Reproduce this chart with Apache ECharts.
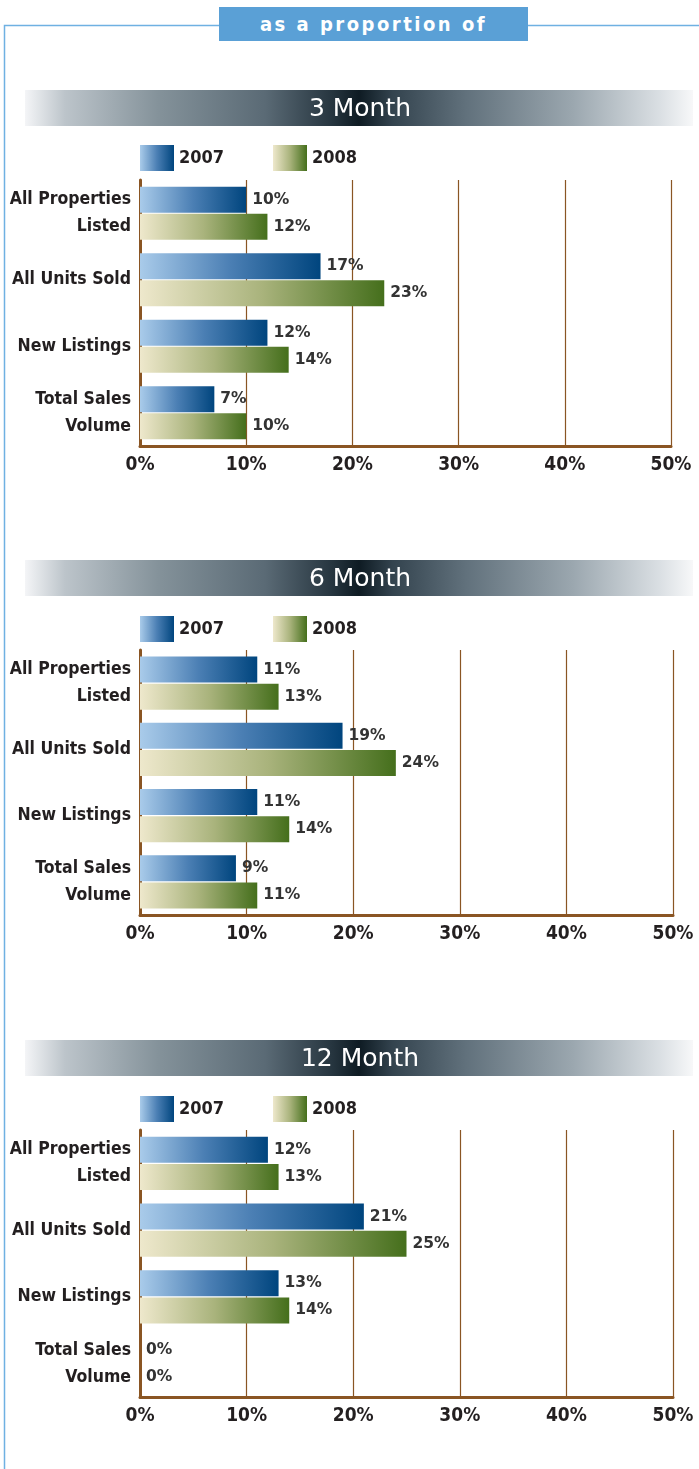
<!DOCTYPE html>
<html>
<head>
<meta charset="utf-8">
<script src="https://cdn.jsdelivr.net/npm/echarts@6/dist/echarts.min.js"></script>
<style>
  html, body { margin: 0; padding: 0; background: #fff; }
  #wrap { position: relative; width: 699px; height: 1469px; }
  #chart { position: absolute; left: 0; top: 0; width: 699px; height: 1469px; }
  #topTitle {
    position: absolute; left: 219px; top: 7px; width: 309px; height: 34px;
    background: #5aa0d6; color: #fff; text-align: center; line-height: 34px;
    font-family: "Liberation Sans Narrow", "DejaVu Sans Condensed", sans-serif;
    font-weight: bold; font-size: 20px; letter-spacing: 2.5px;
  }
</style>
</head>
<body>
<div id="wrap">
  <div id="chart"></div>
  <div id="topTitle">as a proportion of</div>
</div>
<script>
// categories + values
var categories = ['All Properties\nListed', 'All Units Sold', 'New Listings', 'Total Sales\nVolume'];
var panelTitles = ['3 Month', '6 Month', '12 Month'];
var seriesNames = ['2007', '2008'];
var m3_2007 = [10, 17, 12, 7];
var m3_2008 = [12, 23, 14, 10];
var m6_2007 = [11, 19, 11, 9];
var m6_2008 = [13, 24, 14, 11];
var m12_2007 = [12, 21, 13, 0];
var m12_2008 = [13, 25, 14, 0];
var xTicksMax = 50;
var xTickStep = 10;

var narrowFont = '"Liberation Sans Narrow", "DejaVu Sans Condensed", sans-serif';
var brown = '#8a5523';

// panel layout (band top, legend top, grid top, grid height, grid width)
var panels = [
    {band: 90, legend: 145, top: 180, height: 266, width: 531, d2007: m3_2007, d2008: m3_2008},
    {band: 560, legend: 616, top: 650, height: 265, width: 533, d2007: m6_2007, d2008: m6_2008},
    {band: 1040, legend: 1096, top: 1130, height: 267, width: 533, d2007: m12_2007, d2008: m12_2008}
];

function grad2007(){
    return new echarts.graphic.LinearGradient(0, 0, 1, 0, [
        {offset: 0, color: '#a9cbea'},
        {offset: 0.5, color: '#4b7fb4'},
        {offset: 1, color: '#00457e'}
    ]);
}
function grad2008(){
    return new echarts.graphic.LinearGradient(0, 0, 1, 0, [
        {offset: 0, color: '#eee8cc'},
        {offset: 0.5, color: '#a9b37c'},
        {offset: 1, color: '#456f1c'}
    ]);
}
function bandGrad(){
    return new echarts.graphic.LinearGradient(0, 0, 1, 0, [
        {offset: 0, color: '#f4f5f7'},
        {offset: 0.06, color: '#bcc4ca'},
        {offset: 0.2, color: '#84929a'},
        {offset: 0.36, color: '#5a6a75'},
        {offset: 0.46, color: '#26353f'},
        {offset: 0.5, color: '#0e1b23'},
        {offset: 0.55, color: '#33434e'},
        {offset: 0.66, color: '#61717c'},
        {offset: 0.82, color: '#9ba7af'},
        {offset: 0.95, color: '#dadfe3'},
        {offset: 1, color: '#f7f8f9'}
    ]);
}

var grids = [], xAxes = [], yAxes = [], series = [], legends = [], graphics = [];

// outer light-blue frame
graphics.push({type: 'polyline', silent: true,
    shape: {points: [[4.5, 1469], [4.5, 25.5], [219, 25.5]]},
    style: {stroke: '#6fb1e2', lineWidth: 1.5, fill: null}});
graphics.push({type: 'line', silent: true,
    shape: {x1: 528, y1: 25.5, x2: 699, y2: 25.5},
    style: {stroke: '#6fb1e2', lineWidth: 1.5}});

panels.forEach(function(p, i){
    graphics.push({type: 'rect', silent: true,
        shape: {x: 25, y: p.band, width: 668, height: 36},
        style: {fill: bandGrad()}});
    graphics.push({type: 'text', silent: true, x: 360, y: p.band + 19,
        style: {text: panelTitles[i], fill: '#fff', font: '25px "DejaVu Sans", sans-serif',
            align: 'center', verticalAlign: 'middle'}});

    grids.push({left: 140, top: p.top, width: p.width, height: p.height,
        containLabel: false, outerBoundsMode: 'none'});
    xAxes.push({
        type: 'value', gridIndex: i, min: 0, max: xTicksMax, interval: xTickStep,
        axisLine: {show: true, onZero: false, lineStyle: {color: brown, width: 3}},
        axisTick: {show: false},
        splitLine: {show: true, lineStyle: {color: brown, width: 1.2}},
        axisLabel: {formatter: '{value}%', margin: 10, color: '#231f20',
            fontFamily: narrowFont, fontWeight: 'bold', fontSize: 19,
            showMinLabel: true, showMaxLabel: true}
    });
    yAxes.push({
        type: 'category', gridIndex: i, data: categories, inverse: true,
        axisLine: {show: true, lineStyle: {color: brown, width: 3}},
        axisTick: {show: false},
        splitLine: {show: false},
        axisLabel: {margin: 9, color: '#231f20', fontFamily: narrowFont,
            fontWeight: 'bold', fontSize: 17.5, lineHeight: 27, align: 'right',
            padding: [5, 0, 0, 0]}
    });
    var label = {show: true, position: 'right', distance: 6, formatter: '{c}%',
        color: '#333', fontFamily: '"DejaVu Sans", sans-serif', fontWeight: 'bold', fontSize: 15.5,
        padding: [4, 0, 0, 0]};
    series.push({name: '2007', type: 'bar', xAxisIndex: i, yAxisIndex: i, data: p.d2007,
        barWidth: 26, barGap: '4%', itemStyle: {color: grad2007()}, label: label});
    series.push({name: '2008', type: 'bar', xAxisIndex: i, yAxisIndex: i, data: p.d2008,
        barWidth: 26, barGap: '4%', itemStyle: {color: grad2008()}, label: label});

    [[140, '2007'], [273, '2008']].forEach(function(l){
        legends.push({left: l[0], top: p.legend, padding: 0, itemWidth: 34, itemHeight: 26,
            icon: 'rect', selectedMode: false, data: [l[1]], itemGap: 4,
            textStyle: {color: '#231f20', fontFamily: narrowFont, fontWeight: 'bold', fontSize: 18,
                padding: [3, 0, 0, 0]}});
    });
});

var chart = echarts.init(document.getElementById('chart'));
chart.setOption({
    animation: false,
    backgroundColor: '#fff',
    grid: grids,
    xAxis: xAxes,
    yAxis: yAxes,
    legend: legends,
    series: series,
    graphic: graphics
});
</script>
</body>
</html>
